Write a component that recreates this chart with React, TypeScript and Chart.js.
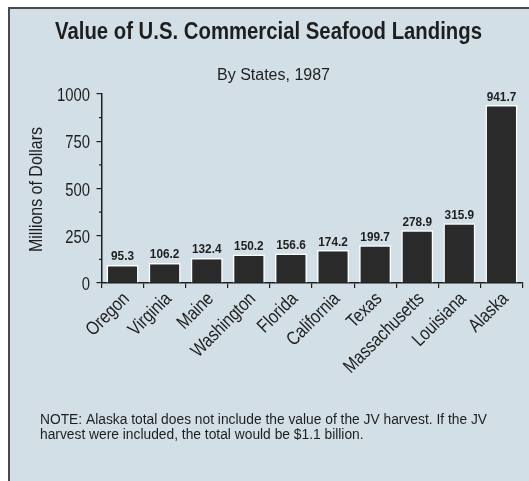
import React, { useEffect, useRef } from "react";
import { Chart, registerables } from "chart.js";

Chart.register(...registerables);

const TITLE = "Value of U.S. Commercial Seafood Landings";
const SUBTITLE = "By States, 1987";
const Y_TITLE = "Millions of Dollars";
const NOTE_LINES = [
  "NOTE: Alaska total does not include the value of the JV harvest. If the JV",
  "harvest were included, the total would be $1.1 billion.",
];

const states = [
  "Oregon",
  "Virginia",
  "Maine",
  "Washington",
  "Florida",
  "California",
  "Texas",
  "Massachusetts",
  "Louisiana",
  "Alaska",
];
const landings = [95.3, 106.2, 132.4, 150.2, 156.6, 174.2, 199.7, 278.9, 315.9, 941.7];
const yMajorTicks = [0, 250, 500, 750, 1000];
const yMinorStep = 125;

const FONT = "'Liberation Sans', Arial, Helvetica, sans-serif";
const BG = "#d3dfe6";
const INK = "#1e1e1e";

function fitScale(ctx: CanvasRenderingContext2D, text: string, font: string, target: number) {
  ctx.font = font;
  return target / ctx.measureText(text).width;
}

function drawText(
  ctx: CanvasRenderingContext2D,
  text: string,
  x: number,
  y: number,
  font: string,
  sx: number,
  align: CanvasTextAlign,
  baseline: CanvasTextBaseline = "alphabetic",
  rot = 0
) {
  ctx.save();
  ctx.font = font;
  ctx.translate(x, y);
  if (rot) ctx.rotate(rot);
  ctx.scale(sx, 1);
  ctx.textAlign = align;
  ctx.textBaseline = baseline;
  ctx.fillText(text, 0, 0);
  ctx.restore();
}

const frame = {
  id: "frame",
  beforeDraw(chart: any) {
    const { ctx, width, height } = chart;
    ctx.save();
    ctx.fillStyle = "#ffffff";
    ctx.fillRect(0, 0, width, height);
    ctx.fillStyle = BG;
    ctx.fillRect(9, 8, width - 9, height - 8);
    ctx.strokeStyle = "#4a4a4a";
    ctx.lineWidth = 2;
    ctx.beginPath();
    ctx.moveTo(9, height + 2);
    ctx.lineTo(9, 8);
    ctx.lineTo(width + 2, 8);
    ctx.stroke();
    ctx.restore();
  },
  afterDraw(chart: any) {
    const ctx: CanvasRenderingContext2D = chart.ctx;
    const yScale = chart.scales.y;
    const xScale = chart.scales.x;
    ctx.save();
    ctx.fillStyle = INK;

    // Title & subtitle
    const tFont = `bold 23px ${FONT}`;
    drawText(ctx, TITLE, 268.5, 39, tFont, fitScale(ctx, TITLE, tFont, 427), "center");
    const sFont = `16px ${FONT}`;
    drawText(ctx, SUBTITLE, 273.5, 80, sFont, fitScale(ctx, SUBTITLE, sFont, 113), "center");

    // Y axis title
    const yFont = `19px ${FONT}`;
    drawText(ctx, Y_TITLE, 42, 189.5, yFont, fitScale(ctx, Y_TITLE, yFont, 125), "center", "alphabetic", -Math.PI / 2);

    // Note
    const nFont = `14px ${FONT}`;
    const nsx = fitScale(ctx, NOTE_LINES[0], nFont, 447);
    drawText(ctx, NOTE_LINES[0], 40, 424, nFont, nsx, "left");
    drawText(ctx, NOTE_LINES[1], 40, 439, nFont, nsx, "left");

    // Y tick labels
    const ytFont = `19px ${FONT}`;
    const ytsx = fitScale(ctx, "1000", ytFont, 33);
    yMajorTicks.forEach((v) => {
      drawText(ctx, String(v), 90, yScale.getPixelForValue(v) + 2, ytFont, ytsx, "right", "middle");
    });

    // X tick labels (rotated)
    const xtFont = `19px ${FONT}`;
    const xtsx = fitScale(ctx, "Massachusetts", xtFont, 105);
    states.forEach((s, i) => {
      const px = xScale.getPixelForValue(i);
      drawText(ctx, s, px + 4, 296, xtFont, xtsx, "right", "middle", -Math.PI / 4);
    });

    // Minor y ticks
    ctx.strokeStyle = INK;
    ctx.lineWidth = 1.2;
    for (let v = yScale.min; v <= yScale.max; v += yMinorStep) {
      if (yMajorTicks.includes(v)) continue;
      const py = yScale.getPixelForValue(v);
      ctx.beginPath();
      ctx.moveTo(yScale.right - 2.5, py);
      ctx.lineTo(yScale.right, py);
      ctx.stroke();
    }
    ctx.restore();
  },
  afterDatasetsDraw(chart: any) {
    const ctx: CanvasRenderingContext2D = chart.ctx;
    const meta = chart.getDatasetMeta(0);
    ctx.save();
    ctx.fillStyle = INK;
    const dFont = `bold 12px ${FONT}`;
    const dsx = fitScale(ctx, "95.3", dFont, 23);
    meta.data.forEach((bar: any, i: number) => {
      drawText(ctx, landings[i].toFixed(1), bar.x, bar.y - 4.5, dFont, dsx, "center");
    });
    ctx.restore();
  },
};

export default function App() {
  const ref = useRef<HTMLCanvasElement | null>(null);
  useEffect(() => {
    if (!ref.current) return;
    const chart = new Chart(ref.current, {
      type: "bar",
      data: {
        labels: states,
        datasets: [
          {
            data: landings,
            backgroundColor: "#2a2a2a",
            borderColor: "#ffffff",
            borderWidth: { top: 1.5, left: 1.5, right: 1.5, bottom: 0 },
            borderSkipped: false,
            barPercentage: 0.76,
            categoryPercentage: 1,
          },
        ],
      },
      options: {
        animation: false,
        responsive: false,
        devicePixelRatio: 1,
        layout: { padding: { top: 94, right: 6.5, bottom: 0, left: 0 } },
        plugins: {
          legend: { display: false },
          title: { display: false },
          tooltip: { enabled: false },
        },
        scales: {
          x: {
            grid: {
              offset: true,
              drawOnChartArea: false,
              drawTicks: true,
              tickLength: 5,
              color: INK,
              lineWidth: 1.2,
            },
            border: { display: true, color: INK, width: 1.5 },
            ticks: { display: false, autoSkip: false },
            afterFit(scale: any) {
              scale.height = 198;
            },
          },
          y: {
            min: 0,
            max: 1000,
            grid: {
              drawOnChartArea: false,
              drawTicks: true,
              tickLength: 5,
              color: (c: any) => (yMajorTicks.includes(c.tick?.value) ? INK : "rgba(0,0,0,0)"),
              lineWidth: 1.2,
            },
            border: { display: true, color: INK, width: 1.5 },
            ticks: { display: false, stepSize: yMinorStep },
            afterFit(scale: any) {
              scale.width = 101.5;
            },
          },
        },
      },
      plugins: [frame],
    });
    return () => chart.destroy();
  }, []);
  return (
    <div style={{ position: "absolute", left: 0, top: 0, width: 529, height: 481 }}>
      <canvas ref={ref} width={529} height={481} style={{ display: "block" }} />
    </div>
  );
}
